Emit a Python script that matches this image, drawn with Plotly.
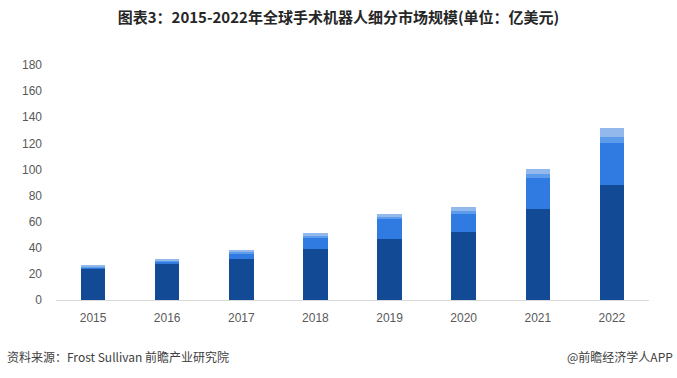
import plotly.graph_objects as go

years = ["2015", "2016", "2017", "2018", "2019", "2020", "2021", "2022"]
seg1 = [24.0, 27.7, 31.5, 38.7, 46.5, 52.0, 69.8, 88.0]
seg2 = [1.0, 1.5, 4.3, 9.4, 15.7, 14.5, 24.0, 32.5]
seg3 = [0.6, 0.9, 1.0, 1.2, 1.4, 1.5, 2.5, 4.3]
seg4 = [1.0, 1.4, 1.6, 1.9, 2.4, 3.0, 4.4, 6.8]
y_ticks = [0, 20, 40, 60, 80, 100, 120, 140, 160, 180]

colors = ["#124a95", "#2f7be2", "#5d9cea", "#93b9ec"]
series = [seg1, seg2, seg3, seg4]

fig = go.Figure()
for vals, c in zip(series, colors):
    fig.add_trace(go.Bar(x=years, y=vals, marker=dict(color=c, line=dict(width=0)),
                         width=0.33, showlegend=False))

fig.update_layout(
    barmode="stack",
    width=677, height=378,
    margin=dict(l=56, r=28, t=65, b=78),
    plot_bgcolor="white", paper_bgcolor="white",
    font=dict(family="Noto Sans CJK SC, Noto Sans, sans-serif", color="#595959", size=12),
    title=dict(text="<b>图表3：2015-2022年全球手术机器人细分市场规模(单位：亿美元)</b>",
               x=0.5, xanchor="center", y=0.952, yanchor="middle",
               font=dict(size=15, color="#262626", family="Noto Sans CJK SC")),
    xaxis=dict(showline=True, linecolor="#d9d9d9", linewidth=1, ticks="",
               ticklabelstandoff=7,
               tickfont=dict(size=12, color="#595959", family="Liberation Sans, Noto Sans"),
               showgrid=False),
    yaxis=dict(range=[0, 180], tickvals=y_ticks, showgrid=False, zeroline=False,
               showline=False, ticks="", ticklen=0, ticklabelstandoff=13,
               tickfont=dict(size=12, color="#595959", family="Liberation Sans, Noto Sans")),
)

fig.add_annotation(text="资料来源：Frost Sullivan 前瞻产业研究院", xref="paper", yref="paper",
                   x=-51/593, xanchor="left", y=-56/235, yanchor="middle", showarrow=False,
                   font=dict(size=12, color="#404040", family="Noto Sans CJK SC"))
fig.add_annotation(text="@前瞻经济学人APP", xref="paper", yref="paper",
                   x=(677-56-2)/593, xanchor="right", y=-56/235, yanchor="middle", showarrow=False,
                   font=dict(size=12, color="#404040", family="Noto Sans CJK SC"))

fig.write_html("out.html", config={"displayModeBar": False},
               post_script="document.body.style.margin='0';document.body.style.overflow='hidden';")
